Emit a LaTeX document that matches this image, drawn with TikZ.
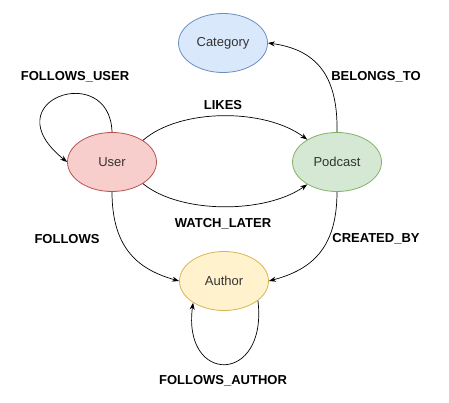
\documentclass[tikz,border=0pt]{standalone}
\usepackage{fontspec}
\setmainfont{Liberation Sans}
\usepackage{tikz}
\usepackage{xcolor}
\usetikzlibrary{arrows.meta, shapes.geometric}
\definecolor{catfill}{HTML}{DAE8FC}
\definecolor{catdraw}{HTML}{6C8EBF}
\definecolor{userfill}{HTML}{F8CECC}
\definecolor{userdraw}{HTML}{B85450}
\definecolor{podfill}{HTML}{D5E8D4}
\definecolor{poddraw}{HTML}{82B366}
\definecolor{authfill}{HTML}{FFF2CC}
\definecolor{authdraw}{HTML}{D6B656}
\definecolor{textgray}{HTML}{333333}

\begin{document}
\begin{tikzpicture}[
    x=1pt, y=-1pt,
    entity/.style={ellipse, minimum width=89pt, minimum height=59pt, inner sep=0pt, line width=0.8pt, text=textgray, font=\fontsize{13}{15}\selectfont},
    rel/.style={font=\fontsize{13}{15}\selectfont\bfseries},
    arrow/.style={-{Stealth[length=7pt, width=5pt]}, line width=0.7pt}
]
\useasboundingbox (0,0) rectangle (449,403);

\node[entity, draw=catdraw, fill=catfill] (category) at (223,43) {Category};

\node[entity, draw=userdraw, fill=userfill] (user) at (112,162) {User};

\node[entity, draw=poddraw, fill=podfill] (podcast) at (337,162) {Podcast};

\node[entity, draw=authdraw, fill=authfill] (author) at (224,281) {Author};

\node[rel] (followsuserlbl) at (75,77) {FOLLOWS\_USER};
\node[rel] (likeslbl) at (223,105) {LIKES};
\node[rel] (belongslbl) at (376,77) {BELONGS\_TO};
\node[rel] (watchlbl) at (223,224) {WATCH\_LATER};
\node[rel] (followslbl) at (67,239) {FOLLOWS};
\node[rel] (createdlbl) at (376,239) {CREATED\_BY};
\node[rel] (followsauthlbl) at (223,381) {FOLLOWS\_AUTHOR};

\draw[arrow] (user.north) .. controls (110,60) and (-10,100) .. (user.west);
\draw[arrow] (user.35) .. controls (180,108) and (265,108) .. (podcast.143);
\draw[arrow] (user.-35) .. controls (180,214) and (265,214) .. (podcast.-143);
\draw[arrow] (podcast.north) .. controls (338,80) and (320,50) .. (category.east);
\draw[arrow] (podcast.south) .. controls (337,250) and (310,270) .. (author.east);
\draw[arrow] (user.south) .. controls (112,250) and (140,270) .. (author.west);
\draw[arrow] (author.-30) .. controls (268,385) and (182,385) .. (author.-145);

\end{tikzpicture}
\end{document}
